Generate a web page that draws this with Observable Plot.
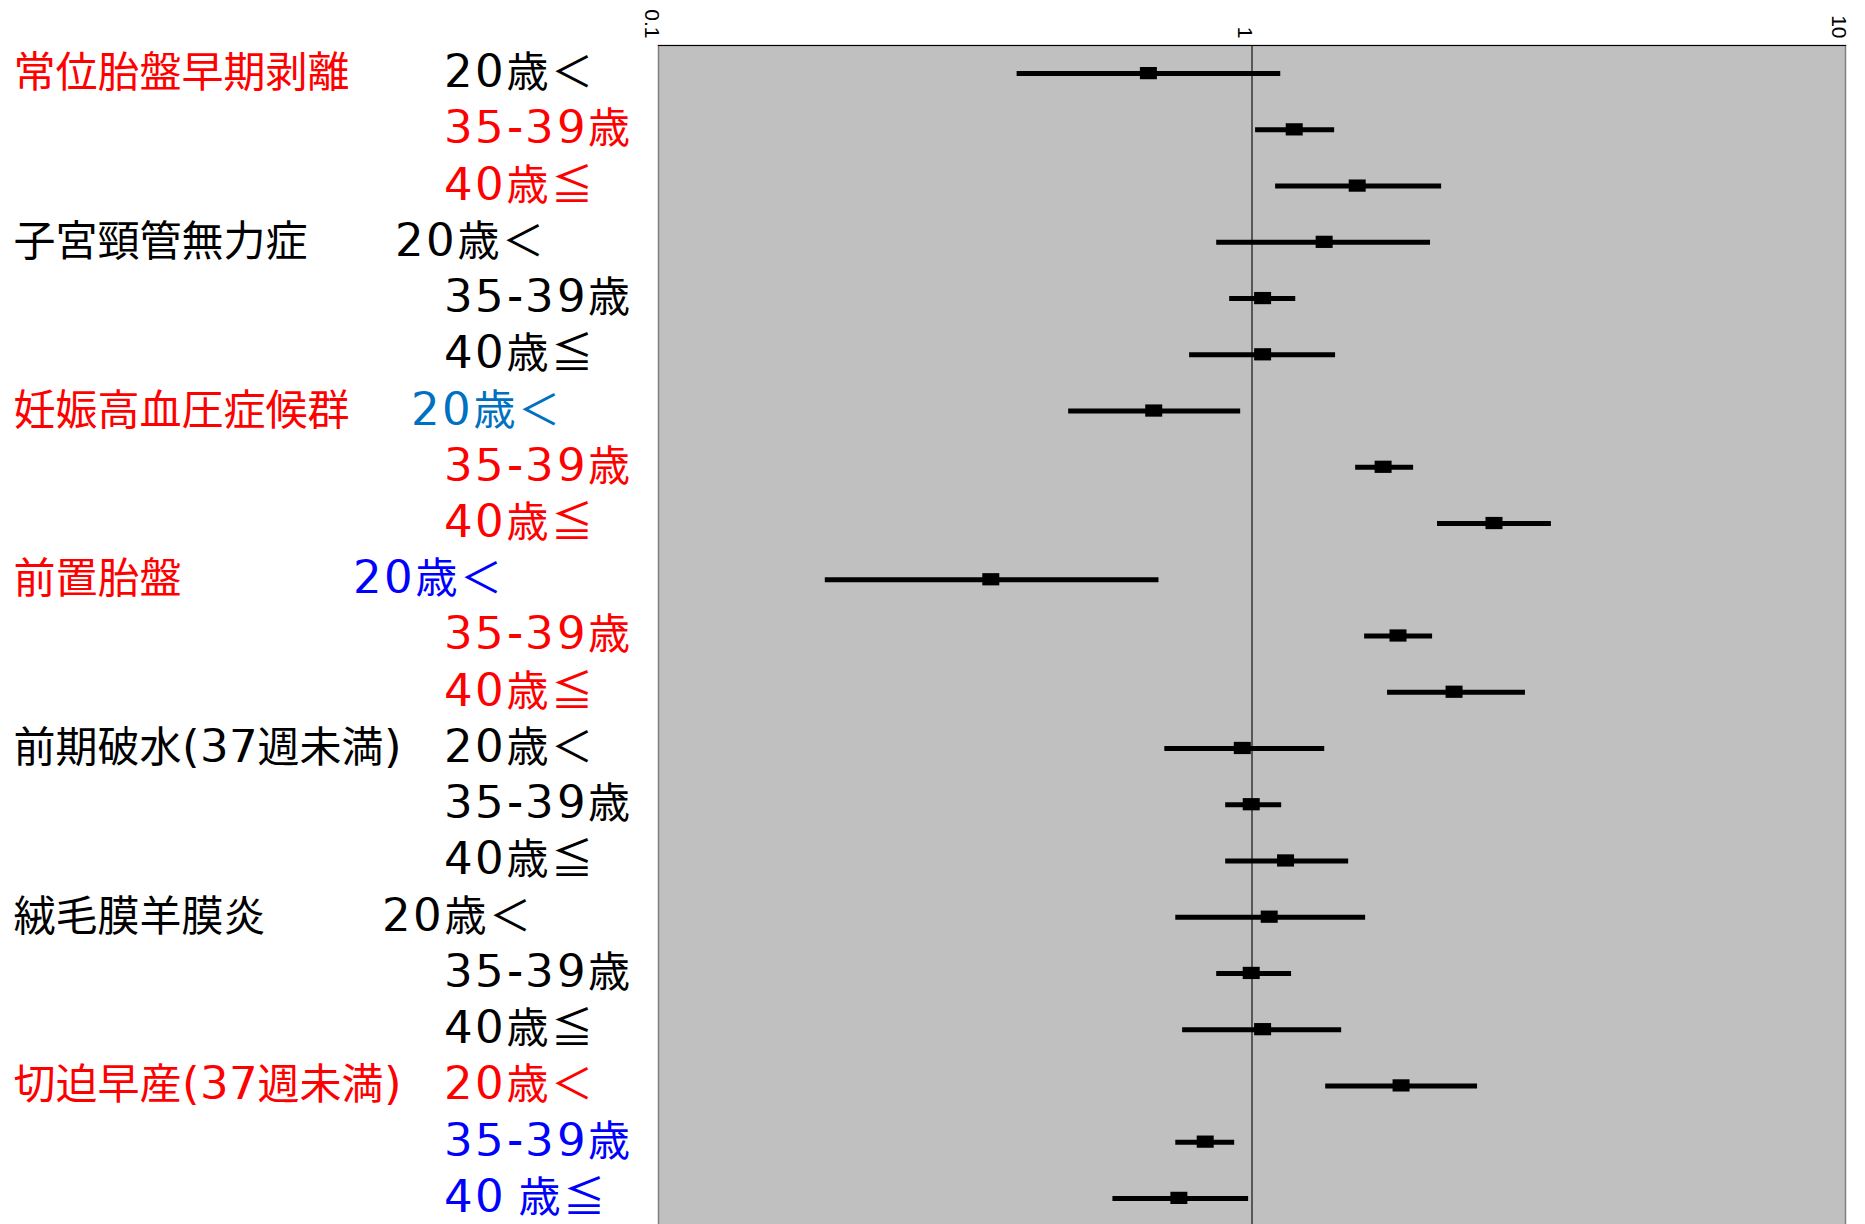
<!DOCTYPE html>
<html>
<head>
<meta charset="utf-8">
<script src="https://cdn.jsdelivr.net/npm/d3@7"></script>
<script src="https://cdn.jsdelivr.net/npm/@observablehq/plot@0.6"></script>
<style>
  @font-face { font-family: "WideDigits"; src: local("DejaVu Sans"), local("DejaVuSans"); unicode-range: U+0030-0039, U+002D, U+0028-0029; size-adjust: 108%; }
  html, body { margin: 0; padding: 0; background: #fff; overflow: hidden; }
</style>
</head>
<body>
<div id="chart"></div>
<script>
// ---------------- data ----------------
const categories = [
  "常位胎盤早期剥離",
  "子宮頸管無力症",
  "妊娠高血圧症候群",
  "前置胎盤",
  "前期破水(37週未満)",
  "絨毛膜羊膜炎",
  "切迫早産(37週未満)"
];
const ageLabels = [
  "20歳＜", "35-39歳", "40歳≦",
  "20歳＜", "35-39歳", "40歳≦",
  "20歳＜", "35-39歳", "40歳≦",
  "20歳＜", "35-39歳", "40歳≦",
  "20歳＜", "35-39歳", "40歳≦",
  "20歳＜", "35-39歳", "40歳≦",
  "20歳＜", "35-39歳", "40 歳≦"
];
const oddsRatio = [
  0.669, 1.178, 1.504,
  1.323, 1.042, 1.042,
  0.683, 1.663, 2.557,
  0.363, 1.762, 2.190,
  0.963, 0.997, 1.139,
  1.069, 0.997, 1.042,
  1.783, 0.834, 0.753
];
const ciLower = [
  0.402, 1.014, 1.096,
  0.872, 0.917, 0.785,
  0.491, 1.495, 2.054,
  0.191, 1.548, 1.692,
  0.713, 0.903, 0.903,
  0.744, 0.872, 0.764,
  1.331, 0.744, 0.583
];
const ciUpper = [
  1.118, 1.378, 2.087,
  1.999, 1.185, 1.383,
  0.957, 1.872, 3.195,
  0.697, 2.015, 2.889,
  1.326, 1.122, 1.455,
  1.554, 1.166, 1.416,
  2.399, 0.935, 0.987
];
const xTickValues = [0.1, 1, 10];
const xTickLabels = ["0.1", "1", "10"];

// ---------------- styling / layout ----------------
const RED = "#ff0000", BLACK = "#000000", BLUE = "#0000ff", LBLUE = "#0070c0";
const categoryColors = [RED, BLACK, RED, RED, BLACK, BLACK, RED];
const ageColors = [
  BLACK, RED, RED,
  BLACK, BLACK, BLACK,
  LBLUE, RED, RED,
  BLUE, RED, RED,
  BLACK, BLACK, BLACK,
  BLACK, BLACK, BLACK,
  RED, BLUE, BLUE
];
const W = 1865, H = 1226, ML = 658, MR = 20, MT = 45, MB = 0;
const categoryX = 13;
const ageDefaultX = 443;
const ageFirstX = [443, 394, 410, 352, 443, 381, 443];
const labelFont = "WideDigits, 'Noto Sans CJK JP', sans-serif";

// ---------------- table ----------------
const rows = ageLabels.map((age, i) => ({
  key: i,
  cat: Math.floor(i / 3),
  first: i % 3 === 0,
  category: categories[Math.floor(i / 3)],
  age,
  or: oddsRatio[i],
  lo: ciLower[i],
  hi: ciUpper[i],
  ageColor: ageColors[i]
}));

const ageX = rows.map(d => d.first ? ageFirstX[d.cat] : ageDefaultX);
const ageMarks = Array.from(new Set(ageX), x =>
  Plot.text(rows.filter((d, i) => ageX[i] === x), {
    y: "key", text: "age", frameAnchor: "left", textAnchor: "start",
    dx: x - ML, fill: "ageColor", fontSize: 42, fontFamily: labelFont
  })
);

const chart = Plot.plot({
  width: W, height: H,
  marginLeft: ML, marginRight: MR, marginTop: MT, marginBottom: MB,
  style: { background: "white", overflow: "visible" },
  x: { type: "log", domain: [0.1, 10], axis: null },
  y: { type: "band", domain: rows.map(d => d.key), padding: 0, round: false, axis: null },
  color: { type: "identity" },
  marks: [
    Plot.frame({ fill: "#c0c0c0", stroke: "#808080", strokeWidth: 1.5 }),
    Plot.frame({ anchor: "top", stroke: "#000", strokeWidth: 1.2 }),
    Plot.ruleX([1], { stroke: "#111", strokeWidth: 1.2 }),
    Plot.ruleY(rows, { y: "key", x1: "lo", x2: "hi", stroke: "#000", strokeWidth: 5 }),
    Plot.tickX(rows, { y: "key", x: "or", stroke: "#000", strokeWidth: 17, insetTop: 22, insetBottom: 22 }),
    Plot.text(xTickValues, {
      x: d => d, text: (d, i) => xTickLabels[i], frameAnchor: "top",
      rotate: 90, textAnchor: "end", dy: -7, dx: 1,
      fontSize: 21, fontFamily: "'Liberation Sans', Arial, sans-serif", fill: "#000"
    }),
    Plot.text(rows.filter(d => d.first), {
      y: "key", text: "category", frameAnchor: "left", textAnchor: "start",
      dx: categoryX - ML, fill: d => categoryColors[d.cat],
      fontSize: 42, fontFamily: labelFont
    }),
    ...ageMarks
  ]
});
const ageSet = new Set(ageLabels);
chart.querySelectorAll("text").forEach(t => {
  if (ageSet.has(t.textContent)) t.style.letterSpacing = "2.5px";
});
document.getElementById("chart").appendChild(chart);
</script>
</body>
</html>
